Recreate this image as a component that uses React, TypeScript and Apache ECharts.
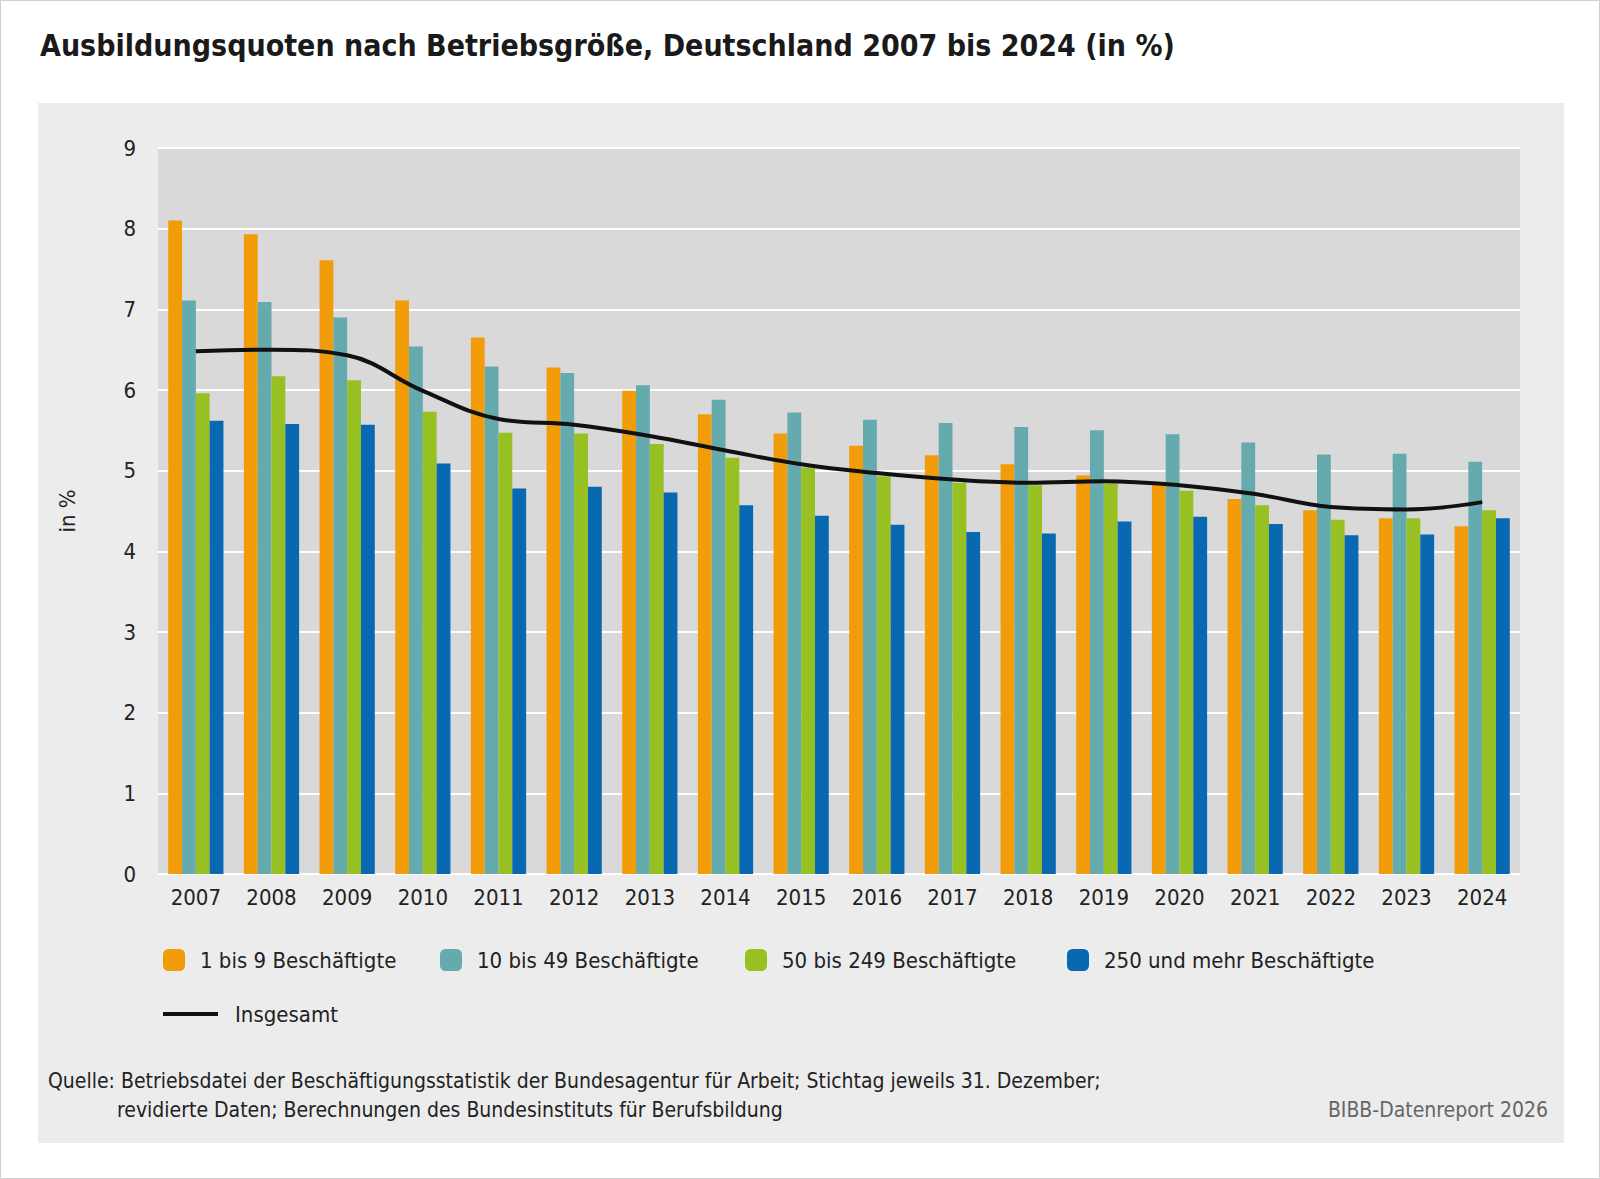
import * as echarts from "echarts";
import { useEffect, useRef } from "react";

const years = ["2007","2008","2009","2010","2011","2012","2013","2014","2015","2016","2017","2018","2019","2020","2021","2022","2023","2024"];
const small = [8.1, 7.93, 7.61, 7.11, 6.65, 6.28, 5.99, 5.7, 5.46, 5.31, 5.19, 5.08, 4.94, 4.82, 4.65, 4.51, 4.41, 4.31];
const medium = [7.11, 7.09, 6.9, 6.54, 6.29, 6.21, 6.06, 5.88, 5.72, 5.63, 5.59, 5.54, 5.5, 5.45, 5.35, 5.2, 5.21, 5.11];
const large = [5.96, 6.17, 6.12, 5.73, 5.47, 5.46, 5.33, 5.16, 5.04, 4.93, 4.85, 4.82, 4.84, 4.75, 4.57, 4.39, 4.41, 4.51];
const veryLarge = [5.62, 5.58, 5.57, 5.09, 4.78, 4.8, 4.73, 4.57, 4.44, 4.33, 4.24, 4.22, 4.37, 4.43, 4.34, 4.2, 4.21, 4.41];
const total = [6.48, 6.5, 6.43, 5.99, 5.64, 5.57, 5.43, 5.25, 5.08, 4.97, 4.89, 4.85, 4.87, 4.82, 4.71, 4.55, 4.52, 4.61];

const seriesNames = ["1 bis 9 Beschäftigte", "10 bis 49 Beschäftigte", "50 bis 249 Beschäftigte", "250 und mehr Beschäftigte"];
const colors = ["#f39c0a", "#65aaad", "#97c123", "#0868b1"];
const font = "'Liberation Sans Narrow', 'DejaVu Sans Condensed', Roboto, sans-serif";

export default function App() {
  const ref = useRef<HTMLDivElement>(null);

  useEffect(() => {
    document.body.style.margin = "0";
    if (!ref.current) return;
    const chart = echarts.init(ref.current, undefined, { renderer: "svg" });
    const legendX = [158, 435, 740, 1062];
    const option: echarts.EChartsOption = {
      animation: false,
      backgroundColor: "#ffffff",
      textStyle: { fontFamily: font },
      graphic: [
        { type: "rect", shape: { x: 0.5, y: 0.5, width: 1599, height: 1178 }, style: { fill: "#fff", stroke: "#cfcfcf" }, z: -10 },
        { type: "rect", shape: { x: 38, y: 103, width: 1526, height: 1040 }, style: { fill: "#ececec" }, z: -9 },
        { type: "text", left: 40, top: 30, style: { text: "Ausbildungsquoten nach Betriebsgröße, Deutschland 2007 bis 2024 (in %)", fontSize: 30, fontWeight: "bold", fontFamily: font, fill: "#1a1a1a" } },
        { type: "text", left: 48, top: 1070, style: { text: "Quelle: Betriebsdatei der Beschäftigungsstatistik der Bundesagentur für Arbeit; Stichtag jeweils 31. Dezember;", fontSize: 21, fontFamily: font, fill: "#222" } },
        { type: "text", left: 117, top: 1099, style: { text: "revidierte Daten; Berechnungen des Bundesinstituts für Berufsbildung", fontSize: 21, fontFamily: font, fill: "#222" } },
        { type: "text", right: 52, top: 1099, style: { text: "BIBB-Datenreport 2026", fontSize: 21, fontFamily: font, fill: "#666" } },
      ],
      legend: [
        ...seriesNames.map((n, i) => ({
          data: [n], left: legendX[i], top: 944, itemWidth: 22, itemHeight: 22, itemGap: 16,
          textStyle: { fontSize: 22, color: "#222", fontFamily: font, padding: [0, 0, 0, 10] },
        })),
        {
          data: [{ name: "Insgesamt", icon: "rect" }], left: 158, top: 998, itemWidth: 55, itemHeight: 4,
          textStyle: { fontSize: 22, color: "#222", fontFamily: font, padding: [0, 0, 0, 12] },
        },
      ],
      grid: { left: 158, right: 80, top: 148, bottom: 305 },
      xAxis: {
        type: "category", data: years,
        axisLine: { show: false }, axisTick: { show: false },
        axisLabel: { fontSize: 22, color: "#222", margin: 12, fontFamily: font },
        splitArea: { show: false },
      },
      yAxis: {
        type: "value", min: 0, max: 9, interval: 1,
        name: "in %", nameLocation: "middle", nameGap: 80, nameRotate: 90,
        nameTextStyle: { fontSize: 22, color: "#222", fontFamily: font },
        axisLabel: { fontSize: 22, color: "#222", margin: 22, fontFamily: font },
        splitLine: { lineStyle: { color: "#ffffff", width: 2 } },
        splitArea: { show: true, areaStyle: { color: ["#d9d9d9"] } },
      },
      series: [
        ...[small, medium, large, veryLarge].map((d, i) => ({
          name: seriesNames[i], type: "bar" as const, data: d, barGap: "0%", barCategoryGap: "27%",
          itemStyle: { color: colors[i] },
        })),
        {
          name: "Insgesamt", type: "line", data: total, smooth: 0.4, symbol: "none",
          lineStyle: { color: "#111", width: 4 }, itemStyle: { color: "#111" }, z: 5,
        },
      ],
    };
    chart.setOption(option);
    return () => chart.dispose();
  }, []);

  return <div ref={ref} style={{ width: 1600, height: 1179 }} />;
}
